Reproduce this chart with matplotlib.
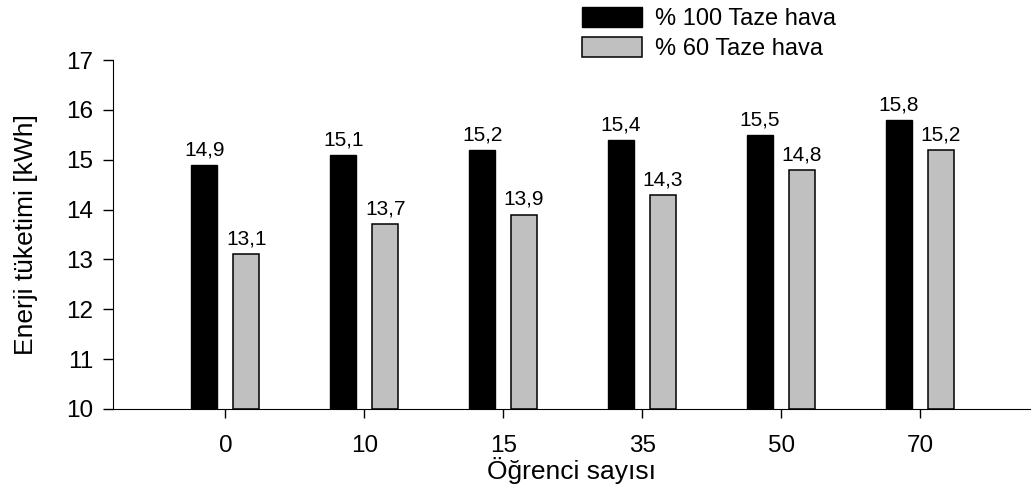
import numpy as np
import matplotlib.pyplot as plt

plt.rcParams['font.family'] = ['Liberation Sans', 'DejaVu Sans']

# data
students = ['0', '10', '15', '35', '50', '70']
fresh_100 = [14.9, 15.1, 15.2, 15.4, 15.5, 15.8]
fresh_60 = [13.1, 13.7, 13.9, 14.3, 14.8, 15.2]
labels_100 = ['14,9', '15,1', '15,2', '15,4', '15,5', '15,8']
labels_60 = ['13,1', '13,7', '13,9', '14,3', '14,8', '15,2']

x = np.arange(len(students))
w = 0.19
base = 10

fig = plt.figure(figsize=(10.35, 4.92), dpi=100)
ax = fig.add_axes([0.109, 0.169, 0.886, 0.709])

b1 = ax.bar(x - 0.152, np.array(fresh_100) - base, w, bottom=base,
            color='black', edgecolor='black', linewidth=1, label='% 100 Taze hava')
b2 = ax.bar(x + 0.15, np.array(fresh_60) - base, w, bottom=base,
            color='#c0c0c0', edgecolor='black', linewidth=1.1, label='% 60 Taze hava')

# value labels on bars
for xi, v, t in zip(x - 0.152, fresh_100, labels_100):
    ax.annotate(t, (xi, v), xytext=(0, 4), textcoords='offset points',
                ha='center', va='bottom', fontsize=15)
for xi, v, t in zip(x + 0.15, fresh_60, labels_60):
    ax.annotate(t, (xi, v), xytext=(0, 4), textcoords='offset points',
                ha='center', va='bottom', fontsize=15)

ax.set_xlim(-0.81, 5.79)
ax.set_ylim(10, 17)
ax.set_xticks(x)
ax.set_xticklabels(students)
ax.set_yticks(range(10, 18))
ax.tick_params(axis='both', labelsize=17.5, direction='out', width=1)
ax.tick_params(axis='y', length=7, pad=7)
ax.tick_params(axis='x', length=6.5, pad=12)
ax.spines['top'].set_visible(False)
ax.spines['right'].set_visible(False)
ax.set_xlabel('Öğrenci sayısı', fontsize=19, labelpad=0)
ax.set_ylabel('Enerji tüketimi [kWh]', fontsize=19, labelpad=20)

fig.legend(handles=[b1, b2], loc='upper left', bbox_to_anchor=(582 / 1035, 1 - 7 / 492),
           frameon=False, fontsize=17, handlelength=2.55, handleheight=0.9,
           labelspacing=0.3, handletextpad=0.55, borderpad=0, borderaxespad=0)

plt.savefig('out.png', dpi=100)
